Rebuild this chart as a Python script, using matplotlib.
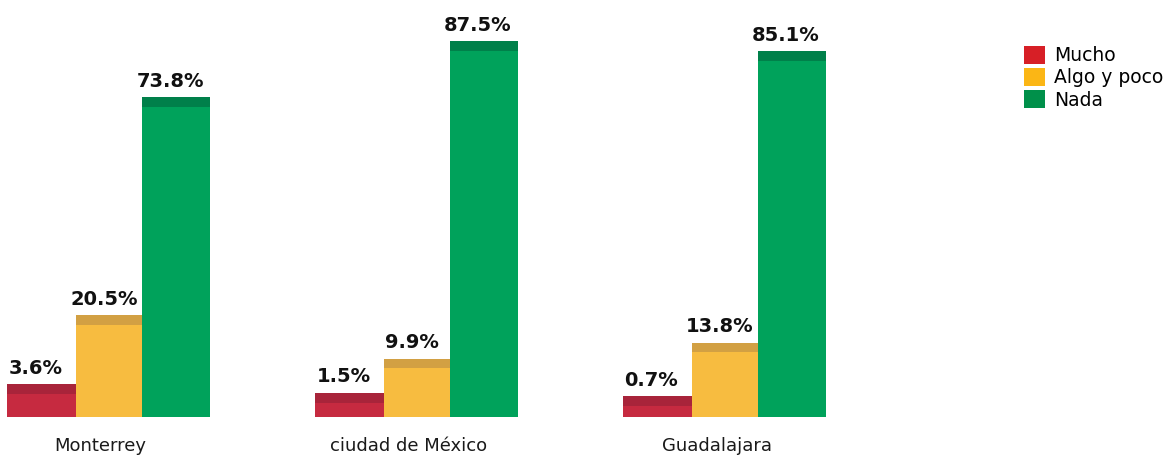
import matplotlib.pyplot as plt
import numpy as np
from matplotlib.patches import Patch

ciudades = ['Monterrey', 'ciudad de México', 'Guadalajara']
series = ['Mucho', 'Algo y poco', 'Nada']
mucho = [3.6, 1.5, 0.7]
algo_poco = [20.5, 9.9, 13.8]
nada = [73.8, 87.5, 85.1]

colores = ['#c62a40', '#f7bc40', '#00a25b']
colores_tapa = ['#a8243a', '#d2a043', '#00804a']
colores_leyenda = ['#d71f26', '#fbb615', '#00904a']

fig = plt.figure(figsize=(11.72, 4.59), dpi=100)
ax = fig.add_axes([0, 42 / 459, 1, 1 - 42 / 459])

x = np.arange(len(ciudades))
ancho = 0.222
desplaz = [-0.222, 0.0, 0.215]
base3d = 4.4   # altura extra del bloque 3D
tapa = 2.4     # cara superior

for valores, d, c, ct in zip([mucho, algo_poco, nada], desplaz, colores, colores_tapa):
    alto = np.array(valores) + base3d
    ax.bar(x + d, alto, width=ancho, color=c, edgecolor='none')
    # cara superior mas oscura (efecto 3D)
    ax.bar(x + d, [tapa] * len(valores), width=ancho, bottom=alto - tapa,
           color=ct, edgecolor='none')
    for xi, v, a in zip(x + d, valores, alto):
        ax.text(xi - 0.02, a + 1.6, f'{v}%', ha='center', va='bottom',
                fontsize=14, fontweight='bold', color='#111111')

for xi, nombre in zip(x, ciudades):
    ax.text(xi - 0.03, -4.8, nombre, ha='center', va='top', fontsize=13,
            color='#1a1a1a', clip_on=False)

ax.set_xlim(-0.357, 3.448)
ax.set_ylim(0, 102)
ax.axis('off')

handles = [Patch(facecolor=c, edgecolor='none') for c in colores_leyenda]
fig.legend(handles, series, loc='upper left', bbox_to_anchor=(0.874, 0.9),
           frameon=False, fontsize=13.5, handlelength=1.1, handleheight=1.1,
           handletextpad=0.5, labelspacing=0.15, borderpad=0, borderaxespad=0)

fig.savefig('out.png', dpi=100)
